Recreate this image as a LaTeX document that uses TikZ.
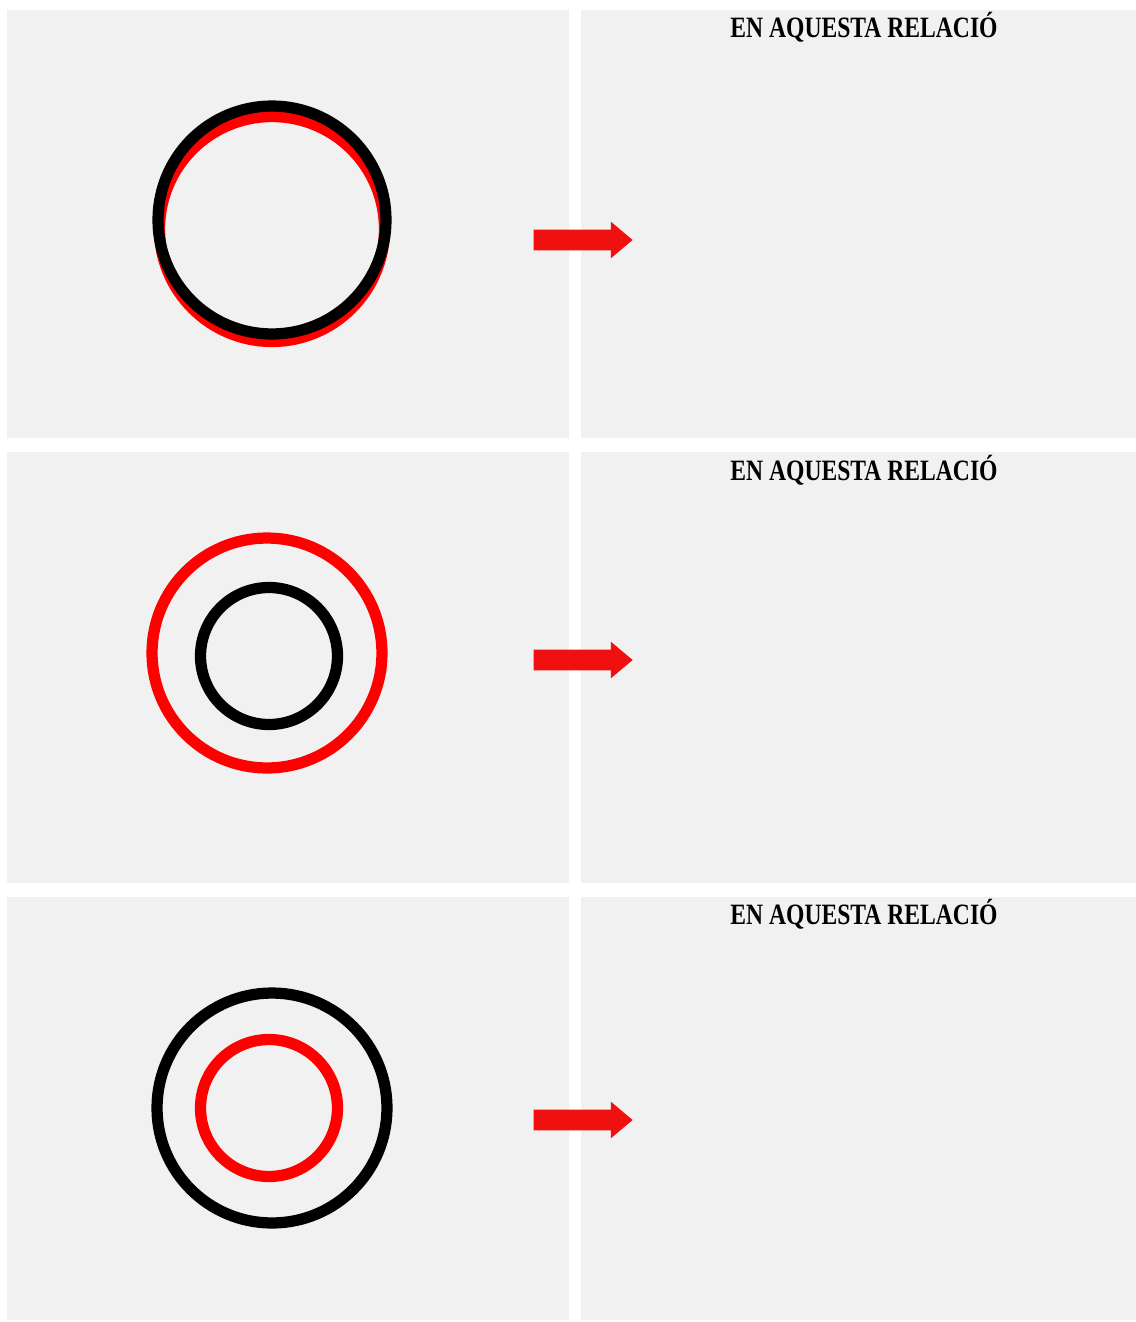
\documentclass[tikz,border=0pt]{standalone}
\usepackage{fontspec}
\setmainfont{Liberation Serif}
\usetikzlibrary{shapes.arrows}
\definecolor{cPanel}{HTML}{F1F1F1}
\definecolor{cRed}{HTML}{FF0000}
\definecolor{cArrow}{HTML}{F01010}
\tikzset{
  panel/.style={fill=cPanel, draw=none},
  ring/.style={circle, draw=#1, line width=6.4pt, inner sep=0pt, outer sep=0pt},
  flowarrow/.style={single arrow, fill=cArrow, draw=none, minimum height=1.98cm,
              inner sep=0.2cm, single arrow head extend=0.16cm, single arrow tip angle=80},
  heading/.style={font=\bfseries\fontsize{16.8}{18}\selectfont, inner sep=0pt},
}
\newcommand{\relacio}{\scalebox{0.8}[1]{EN AQUESTA RELACIÓ}}

\begin{document}
\begin{tikzpicture}[x=0.02cm, y=-0.02cm]
\useasboundingbox[fill=white] (0,0) rectangle (1136,1322);
% panels
\fill[panel] (7,10) rectangle (569,438);
\fill[panel] (581,10) rectangle (1136,438);
\fill[panel] (7,452) rectangle (569,883);
\fill[panel] (581,452) rectangle (1136,883);
\fill[panel] (7,897) rectangle (569,1320);
\fill[panel] (581,897) rectangle (1136,1320);

% row 1
\node[ring=cRed, minimum size=4.5cm] (redA) at (272,229) {};
\node[ring=black, minimum size=4.56cm] (blackA) at (272,220) {};
\node[flowarrow] (arrA) at (577,240) {};
\node[heading] (textA) at (864,27) {\relacio};

% row 2
\node[ring=cRed, minimum size=4.6cm] (redB) at (267,653) {};
\node[ring=black, minimum size=2.74cm] (blackB) at (269,656) {};
\node[flowarrow] (arrB) at (577,660) {};
\node[heading] (textB) at (864,470) {\relacio};

% row 3
\node[ring=black, minimum size=4.6cm] (blackC) at (272,1108) {};
\node[ring=cRed, minimum size=2.74cm] (redC) at (269,1108) {};
\node[flowarrow] (arrC) at (577,1120) {};
\node[heading] (textC) at (864,914) {\relacio};
\end{tikzpicture}
\end{document}
